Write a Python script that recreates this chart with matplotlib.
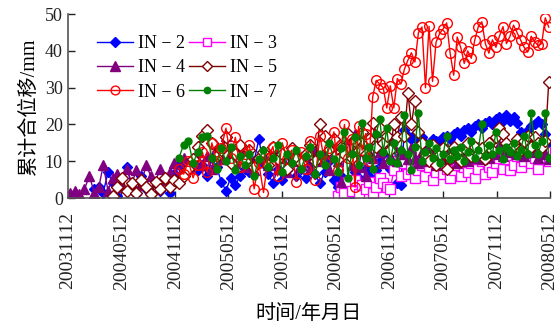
import matplotlib
matplotlib.use('Agg')
import matplotlib.pyplot as plt
import pandas as pd

plt.rcParams['font.family'] = ['Liberation Serif', 'Noto Sans CJK SC']
plt.rcParams['axes.unicode_minus'] = True

# survey dates shared by all inclinometers
survey_dates = [
  '20031120', '20031205', '20031222',
  '20040108', '20040125', '20040210', '20040226', '20040312', '20040328',
  '20040413', '20040429', '20040515', '20040601', '20040617', '20040703',
  '20040719', '20040805', '20040821', '20040906', '20040922', '20041008',
  '20041024', '20041109', '20041125', '20041211', '20041227',
  '20050112', '20050128', '20050213', '20050301', '20050317', '20050402',
  '20050418', '20050504', '20050520', '20050605', '20050621', '20050707',
  '20050723', '20050808', '20050824', '20050909', '20050925', '20051011',
  '20051027', '20051112', '20051128', '20051214', '20051230',
  '20060115', '20060131', '20060216', '20060304', '20060320', '20060405',
  '20060421', '20060507', '20060520', '20060601', '20060612', '20060624',
  '20060706', '20060718', '20060730', '20060811', '20060823', '20060904',
  '20060916', '20060928', '20061010', '20061022', '20061103', '20061115',
  '20061127', '20061209', '20061221',
  '20070102', '20070114', '20070126', '20070207', '20070219', '20070303',
  '20070315', '20070327', '20070408', '20070420', '20070502', '20070514',
  '20070526', '20070607', '20070619', '20070701', '20070713', '20070725',
  '20070806', '20070818', '20070830', '20070911', '20070923', '20071005',
  '20071017', '20071029', '20071110', '20071122', '20071204', '20071216',
  '20071228',
  '20080109', '20080121', '20080202', '20080214', '20080226', '20080309',
  '20080321', '20080402', '20080414', '20080426', '20080508',
]

# cumulative displacement (mm); each series covers the last len() survey dates
in2 = [
  2.5, 3.0, 1.5, 7.0, 4.0, 0.5, 5.5, 8.5, 3.0, 1.0, 6.0, 2.5, 0.0, 4.5, 2.0,
  5.0, 1.5, 6.5, 9.0, 7.5, 8.5,
  10.0, 7.5, 9.0, 6.0, 11.0, 8.5, 4.5, 2.0, 5.5, 3.5, 6.0, 8.0, 7.0, 10.0,
  16.0, 9.5, 6.5, 4.0, 8.0, 5.0, 7.5, 10.5, 6.0,
  8.0, 5.5, 9.0, 6.5, 4.0, 7.0, 10.0, 5.0, 3.0, 6.0, 2.0, 4.5, 0.5, 7.0, 5.5,
  3.5, 8.0, 6.0, 4.0, 7.5, 10.0, 12.0, 15.5, 8.0, 16.0, 4.0, 3.5,
  18.5, 17.0, 16.0, 17.5, 15.5, 16.5, 15.0, 14.5, 16.0, 15.5, 14.5, 16.5,
  17.0, 16.0, 17.5, 18.0, 17.0, 18.5, 19.0, 18.0, 19.5, 20.0, 19.0, 20.5,
  21.0, 20.0, 21.5, 22.0, 21.0, 22.5, 21.0,
  22.0, 20.5, 18.0, 17.0, 18.5, 19.5, 20.0, 21.0, 20.0, 17.5, 14.0,
]
in3 = [
  0.5, 3.0, 1.5, 4.5, 2.0, 5.0, 1.0, 3.5, 2.5, 4.5, 1.5, 3.0, 5.5, 4.0, 3.0,
  2.5, 7.5, 10.0, 6.0,
  9.5, 6.5, 8.0, 5.5, 7.5, 9.0, 6.0, 8.5, 5.0, 7.0, 9.5, 6.5, 8.0, 5.5, 7.5,
  9.0, 6.0, 8.5, 7.0, 9.5, 5.5, 8.0, 10.0, 6.5, 8.5, 7.0, 9.5, 11.0, 8.0,
  10.5, 7.5,
  9.0, 11.5, 8.5, 10.0, 12.0, 9.5, 11.0, 8.0, 10.5, 12.5, 10.0,
]
in4 = [
  1.5, 2.0, 1.0,
  2.5, 6.0, 1.5, 3.0, 9.0, 2.0, 5.5, 6.5, 3.0, 8.0, 4.0, 7.5, 3.5, 9.0, 6.0,
  4.5, 8.0, 5.0, 7.0, 9.5, 6.0, 11.0, 8.5,
  10.0, 12.5, 9.0, 11.5, 8.0, 14.0, 10.5, 17.0, 12.0, 9.5, 13.0, 8.5, 11.0,
  7.5, 10.5, 12.0, 9.0, 13.5, 8.0, 11.0, 7.0, 10.0, 12.5,
  9.0, 11.5, 8.0, 13.0, 10.0, 12.0, 7.5, 14.5, 10.0, 4.5, 12.0, 16.0, 9.0,
  17.5, 8.5, 13.0, 6.0, 15.0, 11.0, 18.0, 12.5, 9.5, 16.5, 11.5, 14.0, 10.0,
  13.0,
  12.0, 10.5, 13.5, 11.0, 9.5, 12.5, 10.0, 13.0, 11.5, 9.0, 12.0, 10.5, 13.5,
  11.0, 12.5, 9.5, 11.5, 13.0, 10.0, 12.0, 11.0, 14.0, 10.5, 12.5, 11.0,
  13.5, 12.0, 14.5, 11.5, 13.0, 12.5,
  13.5, 12.0, 14.0, 11.5, 13.0, 15.0, 12.5, 11.0, 13.5, 12.0, 10.5,
]
in5 = [
  0.5, 3.0, 5.5, 2.0, 4.0, 1.5, 5.0, 3.0, 1.0, 4.5, 2.5, 5.5, 3.0, 5.0, 4.0,
  6.0, 8.0,
  10.5, 14.0, 17.0, 18.5, 15.0, 11.5, 13.0, 16.5, 9.5, 12.0, 14.5, 10.0, 13.0,
  8.5, 11.0, 12.5, 9.0, 14.0, 10.5, 12.0, 8.0, 13.5, 11.0,
  9.5, 12.0, 14.5, 10.0, 20.0, 17.0, 13.0, 16.0, 10.5, 14.0, 12.0, 17.5,
  11.0, 15.5, 13.0, 18.0, 12.0, 16.0, 20.5, 14.0, 19.0, 15.0, 17.0, 13.0,
  20.0, 16.5, 22.0,
  17.0, 28.5, 20.0, 26.5, 18.0, 15.0, 12.0, 10.0, 14.5, 9.0, 12.0, 13.5, 8.0,
  11.0, 14.0, 12.5, 10.0, 13.5, 15.0, 11.5, 14.0, 12.0, 13.5, 10.5, 15.0,
  13.0, 16.5, 19.0, 17.5, 15.0, 13.0,
  14.5, 16.0, 13.0, 15.5, 17.0, 14.0, 16.5, 15.0, 14.0, 15.5, 31.5,
]
in6 = [
  8.0, 6.5, 10.0,
  5.5, 9.0, 12.5, 7.0, 15.0, 10.0, 13.5, 19.0, 11.0, 16.5, 8.5, 12.0, 14.5,
  2.5, 9.5, 1.5, 11.0, 14.0, 6.0, 15.0, 10.5, 13.0, 4.5,
  12.5, 8.0, 15.5, 5.0, 17.0, 10.0, 13.5, 18.0, 7.5, 14.5, 20.0, 11.0, 16.0,
  3.0, 19.5, 13.0, 17.5, 10.0, 27.5, 32.0, 31.0, 30.0, 24.5, 30.5, 24.5,
  32.5, 31.0,
  35.0, 37.5, 39.5, 37.0, 45.0, 46.5, 30.0, 46.7, 31.7, 42.4, 44.7, 46.0,
  47.6, 39.4, 33.4, 43.8, 41.0, 36.6, 40.0, 38.0, 43.0, 46.6, 47.9, 42.0,
  39.4, 43.0, 41.0, 44.0, 46.6, 42.0, 44.0,
  47.0, 45.0, 43.0, 41.0, 39.7, 44.0, 42.5, 41.5, 42.0, 49.0, 46.5,
]
in7 = [
  11.0, 14.5, 15.5,
  9.5, 12.5, 16.5, 17.0, 11.0, 8.0, 13.5, 10.0, 14.0, 7.5, 11.5, 9.0, 12.0,
  6.0, 10.5, 13.0, 8.5, 11.0, 14.5, 7.0, 12.0, 9.5, 13.0,
  8.0, 11.5, 14.0, 6.5, 12.0, 9.0, 15.0, 10.5, 7.0, 13.5, 18.0, 5.5, 12.0,
  16.5, 9.0, 20.5, 11.0, 14.0, 8.0, 17.5, 21.5, 12.5, 19.0, 10.0, 15.0, 9.5,
  13.0,
  22.5, 12.0, 7.5, 14.0, 23.0, 10.0, 12.5, 15.0, 11.0, 13.5, 9.5, 12.0, 17.0,
  10.5, 13.0, 11.5, 14.0, 10.0, 12.5, 15.5, 11.0, 13.0, 20.0, 11.5, 14.5,
  12.0, 18.0, 13.0, 10.5, 14.0, 12.5,
  15.0, 11.5, 13.0, 17.0, 12.0, 23.0, 14.5, 12.0, 15.5, 23.0, 11.0,
]

tick_dates = ['20031112', '20040512', '20041112', '20050512', '20051112',
              '20060512', '20061112', '20070512', '20071112', '20080512']

# label, values, colour, marker, marker size, face colour
series = [
  ('IN − 2', in2, '#0000FF', 'D', 5.5, '#0000FF'),
  ('IN − 3', in3, '#FF00FF', 's', 7, 'white'),
  ('IN − 4', in4, '#800080', '^', 7.5, '#800080'),
  ('IN − 5', in5, '#800000', 'D', 6, 'white'),
  ('IN − 6', in6, '#FF0000', 'o', 7, 'none'),
  ('IN − 7', in7, '#008000', 'o', 5, '#008000'),
]

dates = pd.to_datetime(survey_dates, format='%Y%m%d')
ticks = pd.to_datetime(tick_dates, format='%Y%m%d')

fig = plt.figure(figsize=(5.6, 3.29), dpi=100)
ax = fig.add_axes([0.121, 0.398, 0.861, 0.559])

lines = {}
for label, vals, color, marker, ms, face in series:
  x = dates[-len(vals):]
  ln, = ax.plot(x, vals, color=color, linewidth=1.0, marker=marker,
                markersize=ms, markerfacecolor=face, markeredgecolor=color,
                markeredgewidth=1.0, label=label)
  lines[label] = ln

ax.set_xlim(ticks[0], ticks[-1])
ax.set_ylim(0, 50)
ax.set_yticks(range(0, 51, 10))
ax.set_xticks(ticks)
ax.set_xticklabels(tick_dates, rotation=90)
ax.tick_params(direction='in', length=5, colors='#222222', width=1.0)
ax.tick_params(axis='y', labelsize=13)
ax.tick_params(axis='x', labelsize=14, pad=10)
for side in ('top', 'right'):
  ax.spines[side].set_visible(False)
for side in ('left', 'bottom'):
  ax.spines[side].set_color('#555555')
  ax.spines[side].set_linewidth(1.2)

ax.set_ylabel('累计合位移/mm', fontsize=14.5, labelpad=4)
ax.set_xlabel('时间/年月日', fontsize=14.5, labelpad=11)

order = ['IN − 2', 'IN − 4', 'IN − 6', 'IN − 3', 'IN − 5', 'IN − 7']
ax.legend([lines[k] for k in order], order, ncol=2, frameon=False,
          fontsize=13, loc='upper left', bbox_to_anchor=(0.045, 0.925),
          handlelength=2.0, handletextpad=0.3, labelspacing=0.4,
          columnspacing=0.2, borderaxespad=0, markerscale=0.9)

fig.savefig('out.png', dpi=100)
plt.close(fig)
